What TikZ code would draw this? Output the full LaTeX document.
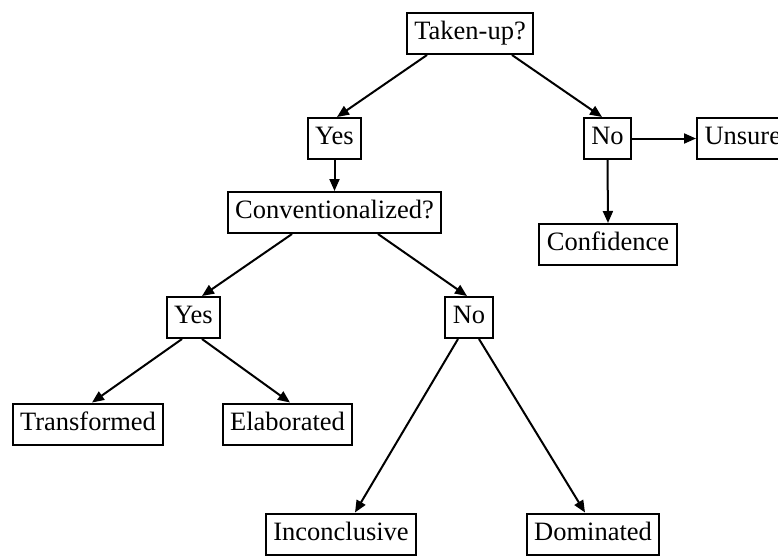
\documentclass[tikz,border=0pt]{standalone}
\usepackage{fontspec}
\setmainfont{Liberation Serif}
\usetikzlibrary{arrows.meta}
\begin{document}
\begin{tikzpicture}[x=1pt,y=-1pt,
  box/.style={draw, line width=2pt, inner xsep=7.5pt, inner ysep=0pt,
    minimum height=41pt, text height=18pt, text depth=6pt,
    font=\fontsize{26.5}{30}\selectfont},
  arr/.style={line width=2pt, -{Triangle[length=12pt,width=10pt]}}]
\useasboundingbox (0,0) rectangle (778,555);
\begin{scope}
\clip (0,0) rectangle (778,555);
% decision nodes and outcomes
\node[box] (take)  at (470,33.5)   {Taken-up?};
\node[box] (yesA)  at (334.5,138.5) {Yes};
\node[box] (noA)   at (607.5,138.5) {No};
\node[box, anchor=west] (unsure) at (696,138.5) {Unsure};
\node[box] (conf)  at (608,244.5)  {Confidence};
\node[box] (conv)  at (334.5,212.5) {Conventionalized?};
\node[box] (yesB)  at (193.5,317.5) {Yes};
\node[box] (noB)   at (469,317.5)  {No};
\node[box] (trans) at (88,424)     {Transformed};
\node[box] (elab)  at (287.5,424)  {Elaborated};
\node[box] (incon) at (341,534)    {Inconclusive};
\node[box] (dom)   at (593,534)    {Dominated};
\end{scope}
% connectors
\draw[arr] ([xshift=-43pt]take.south) -- ([xshift=2.5pt]yesA.north);
\draw[arr] ([xshift=42pt]take.south) -- ([xshift=-5.5pt]noA.north);
\draw[arr] (noA.east) -- (unsure.west);
\draw[arr] (noA.south) -- (conf.north);
\draw[arr] (yesA.south) -- (yesA.south |- conv.north);
\draw[arr] ([xshift=-42.5pt]conv.south) -- ([xshift=8.5pt]yesB.north);
\draw[arr] ([xshift=43.5pt]conv.south) -- ([xshift=-2pt]noB.north);
\draw[arr] ([xshift=-11.5pt]yesB.south) -- ([xshift=4pt]trans.north);
\draw[arr] ([xshift=8.5pt]yesB.south) -- ([xshift=2.5pt]elab.north);
\draw[arr] ([xshift=-11pt]noB.south) -- ([xshift=14pt]incon.north);
\draw[arr] ([xshift=10pt]noB.south) -- ([xshift=-8pt]dom.north);
\end{tikzpicture}
\end{document}
